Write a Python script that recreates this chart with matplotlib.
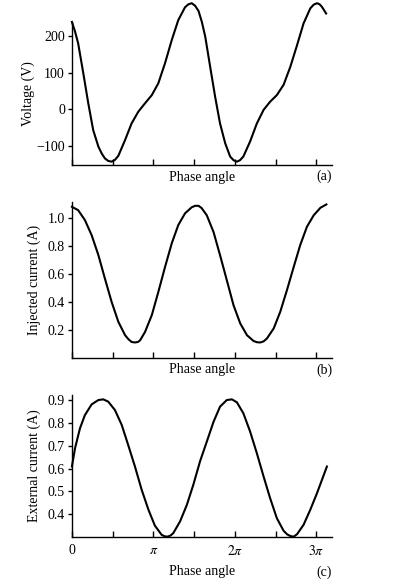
import numpy as np
import matplotlib
matplotlib.use('Agg')
import matplotlib.pyplot as plt

plt.rcParams['font.family'] = ['Liberation Serif', 'DejaVu Serif']
plt.rcParams['mathtext.fontset'] = 'stix'

# phase (rad) and values
phase_v = [0.0, 0.12, 0.24, 0.44, 0.63, 0.82, 1.02, 1.15, 1.27, 1.40, 1.53, 1.66, 1.79,
           2.05, 2.30, 2.56, 2.82, 3.08, 3.33, 3.59, 3.85, 4.10, 4.36, 4.49, 4.62, 4.75,
           4.88, 5.01, 5.14, 5.33, 5.52, 5.71, 5.91, 6.10, 6.23, 6.36, 6.48, 6.61, 6.87,
           7.13, 7.39, 7.64, 7.90, 8.16, 8.42, 8.68, 8.93, 9.19, 9.32, 9.45, 9.55, 9.64,
           9.80]
voltage = [238, 212, 180, 98, 17, -56, -101, -120, -133, -140, -142, -137, -126,
           -83, -38, -6, 17, 39, 71, 126, 189, 243, 278, 286, 289, 282,
           268, 238, 198, 116, 35, -38, -92, -128, -138, -142, -138, -128, -87,
           -38, -1, 21, 39, 67, 116, 175, 234, 275, 285, 289, 286, 279,
           261]

phase_i = [0.0, 0.24, 0.50, 0.76, 1.02, 1.27, 1.53, 1.79, 2.05, 2.18, 2.30, 2.43, 2.55,
           2.63, 2.82, 3.08, 3.33, 3.59, 3.85, 4.10, 4.36, 4.62, 4.75, 4.88, 5.00, 5.20,
           5.46, 5.71, 5.97, 6.23, 6.49, 6.75, 7.00, 7.13, 7.26, 7.39, 7.52, 7.78, 8.03,
           8.29, 8.55, 8.80, 9.06, 9.32, 9.58, 9.81]
injected = [1.081, 1.057, 0.986, 0.878, 0.735, 0.568, 0.40, 0.257, 0.161, 0.132, 0.113,
            0.109, 0.113, 0.125, 0.185, 0.305, 0.47, 0.65, 0.82, 0.95, 1.034, 1.078,
            1.088, 1.088, 1.072, 1.02, 0.90, 0.735, 0.556, 0.376, 0.245, 0.161, 0.12,
            0.111, 0.109, 0.117, 0.138, 0.21, 0.328, 0.484, 0.65, 0.806, 0.938, 1.02,
            1.074, 1.098]

phase_e = [0.0, 0.12, 0.31, 0.50, 0.76, 1.02, 1.21, 1.40, 1.66, 1.92, 2.17, 2.43, 2.69,
           2.95, 3.20, 3.46, 3.57, 3.68, 3.80, 3.91, 4.17, 4.43, 4.68, 4.94, 5.20, 5.46,
           5.71, 5.97, 6.17, 6.36, 6.61, 6.87, 7.13, 7.39, 7.64, 7.90, 8.16, 8.30, 8.42,
           8.55, 8.68, 8.93, 9.19, 9.45, 9.64, 9.83]
external = [0.609, 0.689, 0.776, 0.834, 0.881, 0.90, 0.903, 0.893, 0.856, 0.791, 0.703,
            0.609, 0.507, 0.42, 0.35, 0.31, 0.304, 0.302, 0.307, 0.318, 0.369, 0.441,
            0.529, 0.632, 0.718, 0.805, 0.871, 0.90, 0.903, 0.89, 0.842, 0.762, 0.667,
            0.565, 0.471, 0.383, 0.328, 0.312, 0.305, 0.302, 0.313, 0.354, 0.42, 0.493,
            0.551, 0.609]

xticks = np.arange(0, 7) * np.pi / 2
xticklabels = ['0', '', r'$\pi$', '', r'$2\pi$', '', r'$3\pi$']

fig = plt.figure(figsize=(3.93, 5.84), dpi=100)
L, W = 0.183, 0.662
ax_a = fig.add_axes([L, 0.7175, W, 0.2449])
ax_b = fig.add_axes([L, 0.3875, W, 0.267])
ax_c = fig.add_axes([L, 0.081, W, 0.2426])

panels = [
    (ax_a, phase_v, voltage, 'Voltage (V)', (-151, 238), [-100, 0, 100, 200], '(a)'),
    (ax_b, phase_i, injected, 'Injected current (A)', (0, 1.117), [0.2, 0.4, 0.6, 0.8, 1.0], '(b)'),
    (ax_c, phase_e, external, 'External current (A)', (0.302, 0.922), [0.4, 0.5, 0.6, 0.7, 0.8, 0.9], '(c)'),
]

for ax, x, y, ylab, ylim, yticks, tag in panels:
    ax.plot(x, y, c='k', lw=1.5, clip_on=False, solid_joinstyle='round')
    ax.set_xlim(0, 10.03)
    ax.set_ylim(*ylim)
    ax.set_yticks(yticks)
    if ax is ax_a:
        ax.set_yticklabels(['\u2212100', '0', '100', '200'])
    else:
        ax.set_yticklabels(['%.1f' % t for t in yticks])
    ax.set_xticks(xticks)
    if ax is ax_c:
        ax.set_xticklabels(xticklabels)
    else:
        ax.set_xticklabels([])
    for s in ['top', 'right']:
        ax.spines[s].set_visible(False)
    for s in ['left', 'bottom']:
        ax.spines[s].set_linewidth(1.0)
    ax.tick_params(axis='x', direction='in', length=4, width=1.0, labelsize=10, pad=5)
    ax.tick_params(axis='y', direction='out', length=3, width=1.0, labelsize=10, pad=2)
    ax.set_ylabel(ylab, fontsize=10, labelpad=5)
    ax.set_xlabel('Phase angle', fontsize=10, labelpad=-1)
    ax.text(1.0, -0.035 if ax is not ax_c else -0.2, tag, transform=ax.transAxes,
            ha='right', va='top', fontsize=10)

ax_a.yaxis.labelpad = 1
ax_c.xaxis.labelpad = 5

fig.savefig('out.png', dpi=100)
